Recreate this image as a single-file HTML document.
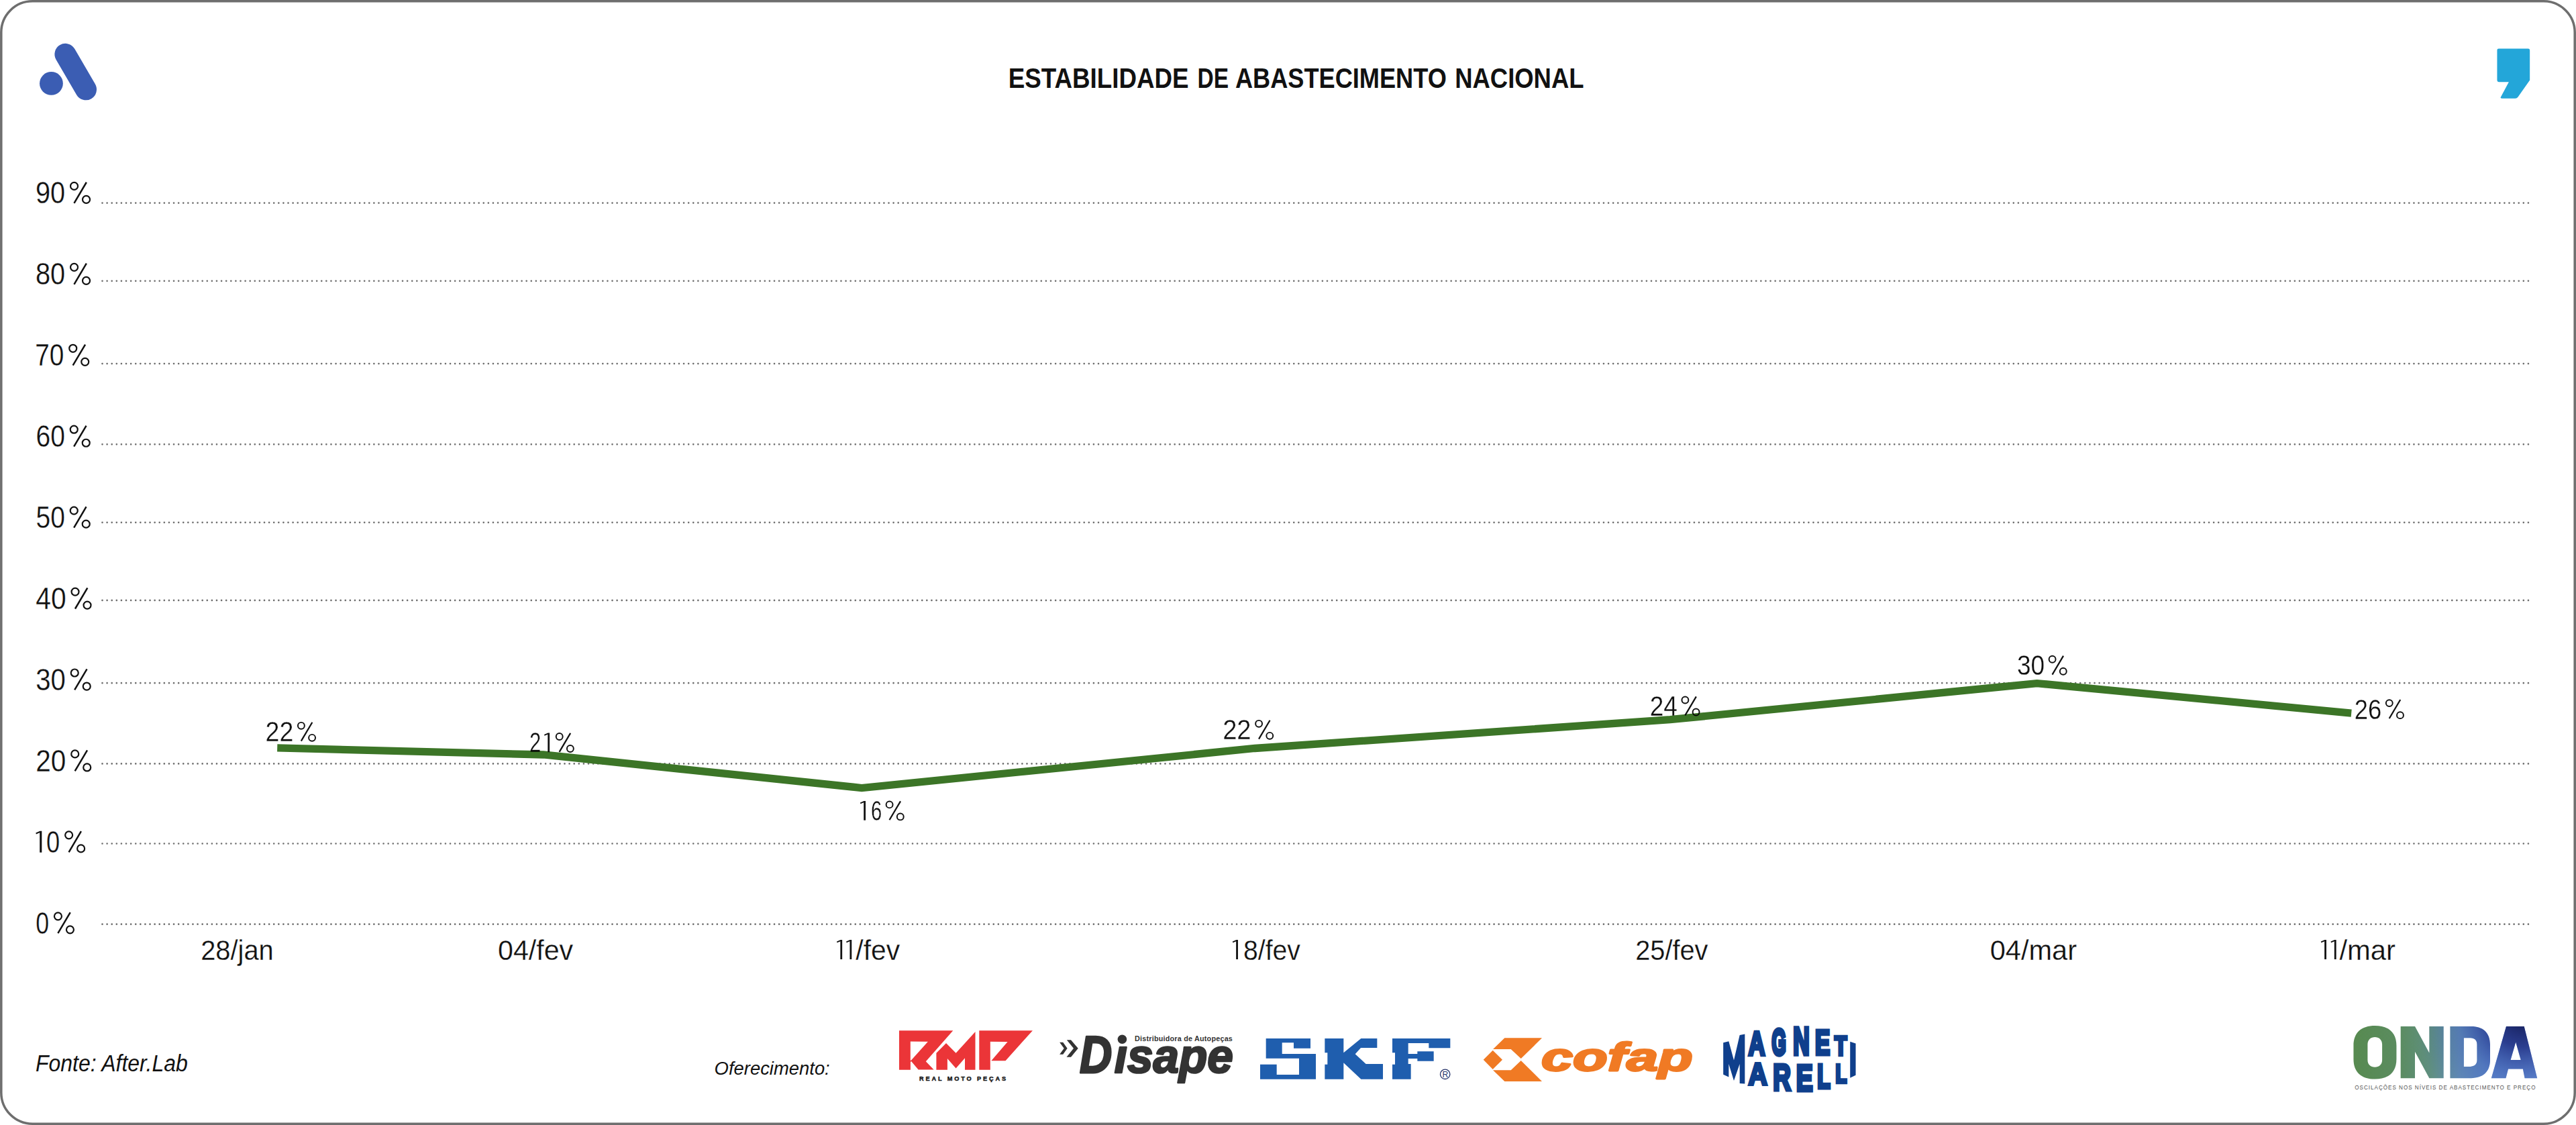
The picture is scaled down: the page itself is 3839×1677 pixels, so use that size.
<!DOCTYPE html>
<html><head><meta charset="utf-8"><title>Estabilidade de Abastecimento Nacional</title>
<style>html,body{margin:0;padding:0;background:#fff;width:3839px;height:1677px;overflow:hidden;font-family:"Liberation Sans",sans-serif}</style>
</head><body>
<svg width="3839" height="1677" viewBox="0 0 3839 1677" style="display:block;font-family:'Liberation Sans',sans-serif"><rect x="1.8" y="1.8" width="3835.4" height="1673.4" rx="46.5" ry="46.5" fill="#fff" stroke="#6e6e6e" stroke-width="3.5"/>
<g transform="scale(0.17778)"><circle cx="430" cy="700" r="98" fill="#3b5db3"/><line x1="548" y1="455" x2="720" y2="750" stroke="#3b5db3" stroke-width="180" stroke-linecap="round"/></g>
<g transform="translate(3640 0) scale(0.17784 0.17778)"><path fill="#23a6d9" d="M472,408 L718,408 Q732,408 732,422 L732,672 L632,814 Q624,826 610,826 L500,826 Q480,826 490,812 L556,688 L472,688 Q458,688 458,674 L458,422 Q458,408 472,408 Z"/></g>
<text transform="translate(1502.70 130.80) scale(0.8751 1)" style="font-weight:700;font-style:normal" font-size="42.01" fill="#111">ESTABILIDADE</text>
<text transform="translate(1784.50 130.80) scale(0.7970 1)" style="font-weight:700;font-style:normal" font-size="42.01" fill="#111">DE</text>
<text transform="translate(1841.00 130.80) scale(0.8613 1)" style="font-weight:700;font-style:normal" font-size="42.01" fill="#111">ABASTECIMENTO</text>
<text transform="translate(2168.20 130.80) scale(0.8675 1)" style="font-weight:700;font-style:normal" font-size="42.01" fill="#111">NACIONAL</text>
<line x1="152.5" y1="302.6" x2="3769" y2="302.6" stroke="#707070" stroke-width="2.7" stroke-linecap="round" stroke-dasharray="0 7.103"/>
<line x1="152.5" y1="418.8" x2="3769" y2="418.8" stroke="#707070" stroke-width="2.7" stroke-linecap="round" stroke-dasharray="0 7.103"/>
<line x1="152.5" y1="542.1" x2="3769" y2="542.1" stroke="#707070" stroke-width="2.7" stroke-linecap="round" stroke-dasharray="0 7.103"/>
<line x1="152.5" y1="662.3" x2="3769" y2="662.3" stroke="#707070" stroke-width="2.7" stroke-linecap="round" stroke-dasharray="0 7.103"/>
<line x1="152.5" y1="778.8" x2="3769" y2="778.8" stroke="#707070" stroke-width="2.7" stroke-linecap="round" stroke-dasharray="0 7.103"/>
<line x1="152.5" y1="894.9" x2="3769" y2="894.9" stroke="#707070" stroke-width="2.7" stroke-linecap="round" stroke-dasharray="0 7.103"/>
<line x1="152.5" y1="1018.2" x2="3769" y2="1018.2" stroke="#707070" stroke-width="2.7" stroke-linecap="round" stroke-dasharray="0 7.103"/>
<line x1="152.5" y1="1138.4" x2="3769" y2="1138.4" stroke="#707070" stroke-width="2.7" stroke-linecap="round" stroke-dasharray="0 7.103"/>
<line x1="152.5" y1="1257.5" x2="3769" y2="1257.5" stroke="#707070" stroke-width="2.7" stroke-linecap="round" stroke-dasharray="0 7.103"/>
<line x1="152.5" y1="1377.7" x2="3769" y2="1377.7" stroke="#707070" stroke-width="2.7" stroke-linecap="round" stroke-dasharray="0 7.103"/>
<text transform="translate(52.98 303.43) scale(0.8576 1)" style="font-weight:400;font-style:normal" font-size="46.29" fill="#111" stroke="#fff" stroke-width="0.29">90</text>
<g fill="none" stroke="#111"><circle cx="110.54" cy="277.43" r="5.50" stroke-width="2.20"/><circle cx="128.53" cy="297.45" r="5.50" stroke-width="2.20"/><line x1="128.84" y1="271.76" x2="110.46" y2="302.84" stroke-width="2.50"/></g>
<text transform="translate(52.98 424.36) scale(0.8576 1)" style="font-weight:400;font-style:normal" font-size="46.29" fill="#111" stroke="#fff" stroke-width="0.29">80</text>
<g fill="none" stroke="#111"><circle cx="110.54" cy="398.36" r="5.50" stroke-width="2.20"/><circle cx="128.53" cy="418.38" r="5.50" stroke-width="2.20"/><line x1="128.84" y1="392.69" x2="110.46" y2="423.77" stroke-width="2.50"/></g>
<text transform="translate(52.17 545.29) scale(0.8382 1)" style="font-weight:400;font-style:normal" font-size="46.29" fill="#111" stroke="#fff" stroke-width="0.30">70</text>
<g fill="none" stroke="#111"><circle cx="108.74" cy="519.29" r="5.50" stroke-width="2.20"/><circle cx="126.73" cy="539.31" r="5.50" stroke-width="2.20"/><line x1="127.04" y1="513.62" x2="108.66" y2="544.70" stroke-width="2.50"/></g>
<text transform="translate(53.48 666.22) scale(0.8421 1)" style="font-weight:400;font-style:normal" font-size="46.29" fill="#111" stroke="#fff" stroke-width="0.30">60</text>
<g fill="none" stroke="#111"><circle cx="110.24" cy="640.22" r="5.50" stroke-width="2.20"/><circle cx="128.23" cy="660.24" r="5.50" stroke-width="2.20"/><line x1="128.54" y1="634.55" x2="110.16" y2="665.63" stroke-width="2.50"/></g>
<text transform="translate(53.48 787.14) scale(0.8421 1)" style="font-weight:400;font-style:normal" font-size="46.29" fill="#111" stroke="#fff" stroke-width="0.30">50</text>
<g fill="none" stroke="#111"><circle cx="110.24" cy="761.15" r="5.50" stroke-width="2.20"/><circle cx="128.23" cy="781.17" r="5.50" stroke-width="2.20"/><line x1="128.54" y1="755.48" x2="110.16" y2="786.56" stroke-width="2.50"/></g>
<text transform="translate(53.27 908.08) scale(0.8810 1)" style="font-weight:400;font-style:normal" font-size="46.29" fill="#111" stroke="#fff" stroke-width="0.28">40</text>
<g fill="none" stroke="#111"><circle cx="112.04" cy="882.08" r="5.50" stroke-width="2.20"/><circle cx="130.03" cy="902.10" r="5.50" stroke-width="2.20"/><line x1="130.34" y1="876.41" x2="111.96" y2="907.49" stroke-width="2.50"/></g>
<text transform="translate(53.27 1029.01) scale(0.8654 1)" style="font-weight:400;font-style:normal" font-size="46.29" fill="#111" stroke="#fff" stroke-width="0.29">30</text>
<g fill="none" stroke="#111"><circle cx="111.24" cy="1003.01" r="5.50" stroke-width="2.20"/><circle cx="129.23" cy="1023.03" r="5.50" stroke-width="2.20"/><line x1="129.54" y1="997.34" x2="111.16" y2="1028.42" stroke-width="2.50"/></g>
<text transform="translate(53.27 1149.93) scale(0.8751 1)" style="font-weight:400;font-style:normal" font-size="46.29" fill="#111" stroke="#fff" stroke-width="0.29">20</text>
<g fill="none" stroke="#111"><circle cx="111.74" cy="1123.94" r="5.50" stroke-width="2.20"/><circle cx="129.73" cy="1143.96" r="5.50" stroke-width="2.20"/><line x1="130.04" y1="1118.27" x2="111.66" y2="1149.35" stroke-width="2.50"/></g>
<polygon fill="#111" points="62.30,1270.74 59.20,1270.74 59.20,1241.34 53.90,1243.44 53.30,1241.54 59.60,1238.74 62.30,1238.74"/>
<text transform="translate(68.88 1270.87) scale(0.7829 1)" style="font-weight:400;font-style:normal" font-size="46.29" fill="#111" stroke="#fff" stroke-width="0.32">0</text>
<g fill="none" stroke="#111"><circle cx="102.64" cy="1244.87" r="5.50" stroke-width="2.20"/><circle cx="120.63" cy="1264.89" r="5.50" stroke-width="2.20"/><line x1="120.94" y1="1239.20" x2="102.56" y2="1270.28" stroke-width="2.50"/></g>
<text transform="translate(53.17 1391.80) scale(0.7712 1)" style="font-weight:400;font-style:normal" font-size="46.29" fill="#111" stroke="#fff" stroke-width="0.32">0</text>
<g fill="none" stroke="#111"><circle cx="86.44" cy="1365.80" r="5.50" stroke-width="2.20"/><circle cx="104.43" cy="1385.82" r="5.50" stroke-width="2.20"/><line x1="104.74" y1="1360.13" x2="86.36" y2="1391.21" stroke-width="2.50"/></g>
<polyline fill="none" stroke="#3c7527" stroke-width="11.3" stroke-linejoin="miter" stroke-linecap="butt" points="413.2,1114.9 810.0,1125.0 1284.2,1174.5 1870.0,1115.5 2489.0,1072.7 3035.7,1018.6 3504.2,1063.1"/>
<g style="mix-blend-mode:multiply">
<text transform="translate(395.57 1105.22) scale(0.8875 1)" style="font-weight:400;font-style:normal" font-size="42.34" fill="#111" stroke="#fff" stroke-width="0.28">22</text>
<g fill="none" stroke="#111"><circle cx="448.88" cy="1081.82" r="4.95" stroke-width="1.98"/><circle cx="465.07" cy="1099.83" r="4.95" stroke-width="1.98"/><line x1="465.35" y1="1076.71" x2="448.80" y2="1104.69" stroke-width="2.25"/></g>
<text transform="translate(788.98 1121.42) scale(0.7328 1)" style="font-weight:400;font-style:normal" font-size="42.34" fill="#111" stroke="#fff" stroke-width="0.34">2</text>
<polygon fill="#111" points="819.10,1121.30 816.31,1121.30 816.31,1094.84 811.54,1096.73 811.00,1095.02 816.67,1092.50 819.10,1092.50"/>
<g fill="none" stroke="#111"><circle cx="833.68" cy="1098.02" r="4.95" stroke-width="1.98"/><circle cx="849.87" cy="1116.03" r="4.95" stroke-width="1.98"/><line x1="850.15" y1="1092.91" x2="833.60" y2="1120.89" stroke-width="2.25"/></g>
<polygon fill="#111" points="1290.00,1222.70 1287.21,1222.70 1287.21,1196.24 1282.44,1198.13 1281.90,1196.42 1287.57,1193.90 1290.00,1193.90"/>
<text transform="translate(1297.88 1222.83) scale(0.6904 1)" style="font-weight:400;font-style:normal" font-size="42.34" fill="#111" stroke="#fff" stroke-width="0.36">6</text>
<g fill="none" stroke="#111"><circle cx="1325.58" cy="1199.42" r="4.95" stroke-width="1.98"/><circle cx="1341.77" cy="1217.43" r="4.95" stroke-width="1.98"/><line x1="1342.05" y1="1194.31" x2="1325.50" y2="1222.29" stroke-width="2.25"/></g>
<text transform="translate(1822.17 1102.22) scale(0.9002 1)" style="font-weight:400;font-style:normal" font-size="42.34" fill="#111" stroke="#fff" stroke-width="0.28">22</text>
<g fill="none" stroke="#111"><circle cx="1876.08" cy="1078.82" r="4.95" stroke-width="1.98"/><circle cx="1892.27" cy="1096.83" r="4.95" stroke-width="1.98"/><line x1="1892.55" y1="1073.71" x2="1876.00" y2="1101.69" stroke-width="2.25"/></g>
<text transform="translate(2458.68 1066.92) scale(0.8747 1)" style="font-weight:400;font-style:normal" font-size="42.34" fill="#111" stroke="#fff" stroke-width="0.29">24</text>
<g fill="none" stroke="#111"><circle cx="2511.38" cy="1043.52" r="4.95" stroke-width="1.98"/><circle cx="2527.57" cy="1061.53" r="4.95" stroke-width="1.98"/><line x1="2527.85" y1="1038.41" x2="2511.30" y2="1066.39" stroke-width="2.25"/></g>
<text transform="translate(3005.88 1006.12) scale(0.8747 1)" style="font-weight:400;font-style:normal" font-size="42.34" fill="#111" stroke="#fff" stroke-width="0.29">30</text>
<g fill="none" stroke="#111"><circle cx="3058.58" cy="982.72" r="4.95" stroke-width="1.98"/><circle cx="3074.77" cy="1000.74" r="4.95" stroke-width="1.98"/><line x1="3075.05" y1="977.61" x2="3058.50" y2="1005.59" stroke-width="2.25"/></g>
<text transform="translate(3508.78 1071.53) scale(0.8599 1)" style="font-weight:400;font-style:normal" font-size="42.34" fill="#111" stroke="#fff" stroke-width="0.29">26</text>
<g fill="none" stroke="#111"><circle cx="3560.78" cy="1048.12" r="4.95" stroke-width="1.98"/><circle cx="3576.97" cy="1066.13" r="4.95" stroke-width="1.98"/><line x1="3577.25" y1="1043.01" x2="3560.70" y2="1070.99" stroke-width="2.25"/></g>
</g>
<text transform="translate(299.18 1430.62) scale(0.9192 1)" style="font-weight:400;font-style:normal" font-size="43.34" fill="#111" stroke="#fff" stroke-width="0.27">28/jan</text>
<text transform="translate(741.98 1430.62) scale(0.9500 1)" style="font-weight:400;font-style:normal" font-size="43.34" fill="#111" stroke="#fff" stroke-width="0.26">04/fev</text>
<polygon fill="#111" points="1255.15,1430.00 1252.35,1430.00 1252.35,1403.36 1247.54,1405.27 1247.00,1403.54 1252.71,1401.01 1255.15,1401.01"/>
<polygon fill="#111" points="1269.25,1430.00 1266.45,1430.00 1266.45,1403.36 1261.64,1405.27 1261.10,1403.54 1266.81,1401.01 1269.25,1401.01"/>
<text transform="translate(1275.28 1430.62) scale(0.9426 1)" style="font-weight:400;font-style:normal" font-size="43.34" fill="#111" stroke="#fff" stroke-width="0.27">/fev</text>
<polygon fill="#111" points="1844.95,1430.00 1842.15,1430.00 1842.15,1403.36 1837.34,1405.27 1836.80,1403.54 1842.51,1401.01 1844.95,1401.01"/>
<text transform="translate(1852.97 1430.62) scale(0.9041 1)" style="font-weight:400;font-style:normal" font-size="43.34" fill="#111" stroke="#fff" stroke-width="0.28">8/fev</text>
<text transform="translate(2437.18 1430.62) scale(0.9170 1)" style="font-weight:400;font-style:normal" font-size="43.34" fill="#111" stroke="#fff" stroke-width="0.27">25/fev</text>
<text transform="translate(2965.78 1430.62) scale(0.9583 1)" style="font-weight:400;font-style:normal" font-size="43.34" fill="#111" stroke="#fff" stroke-width="0.26">04/mar</text>
<polygon fill="#111" points="3466.95,1430.00 3464.15,1430.00 3464.15,1403.36 3459.34,1405.27 3458.80,1403.54 3464.51,1401.01 3466.95,1401.01"/>
<polygon fill="#111" points="3481.65,1430.00 3478.85,1430.00 3478.85,1403.36 3474.04,1405.27 3473.50,1403.54 3479.21,1401.01 3481.65,1401.01"/>
<text transform="translate(3486.47 1430.62) scale(0.9639 1)" style="font-weight:400;font-style:normal" font-size="43.34" fill="#111" stroke="#fff" stroke-width="0.26">/mar</text>
<text transform="translate(53.00 1597.00) scale(0.9320 1)" style="font-weight:400;font-style:italic" font-size="34.30" fill="#111">Fonte: After.Lab</text>
<text transform="translate(1064.60 1601.80) scale(0.9674 1)" style="font-weight:400;font-style:italic" font-size="28.34" fill="#111">Oferecimento:</text>
<g fill="#eb3538"><path fill-rule="evenodd" d="M1340.0,1536.2 L1420.3,1536.2 L1379.8,1582.3 L1391.6,1594.4 L1368.6,1594.4 L1358.0,1582.0 L1356.9,1582.9 L1356.9,1594.7 L1340.0,1594.7 Z M1356.8,1552.4 L1382.9,1552.7 L1357.7,1580.7 L1356.8,1580.7 Z"/><path d="M1395.4,1569.8 L1410.0,1554.9 L1424.6,1569.8 L1453.5,1538.1 L1453.5,1594.7 L1438.0,1594.7 L1438.0,1577.3 L1424.6,1592.5 L1411.9,1577.9 L1411.9,1594.7 L1395.4,1594.7 Z"/><path fill-rule="evenodd" d="M1459.3,1536.2 L1538.9,1536.2 L1498.5,1581.3 L1475.8,1581.3 L1475.8,1594.7 L1459.3,1594.7 Z M1475.8,1552.7 L1501.6,1552.9 L1477.3,1581.2 L1475.8,1581.2 Z"/></g>
<text x="1369.95" y="1611.45" style="font-weight:700;font-style:normal" font-size="9.16" letter-spacing="2.900" fill="#1a1a1a" stroke="#1a1a1a" stroke-width="0.50" stroke-linejoin="round">REAL MOTO PEÇAS</text>
<g transform="translate(1560 1525) scale(0.11258)" fill="#333"><path d="M170,255 L215,255 L272,335 L215,415 L170,415 L228,335 Z"/><path d="M265,225 L320,225 L415,335 L320,450 L262,450 L355,335 Z"/><circle cx="998.4" cy="215.0" r="60.4"/></g>
<text transform="translate(1609.10 1598.60) scale(0.8553 1)" style="font-weight:700;font-style:italic" font-size="78.05" fill="#333" stroke="#333" stroke-width="3.04" stroke-linejoin="round">D</text>
<text transform="translate(1660.80 1598.60) scale(0.9548 1)" style="font-weight:700;font-style:italic" font-size="72.54" fill="#333" stroke="#333" stroke-width="2.72" stroke-linejoin="round">ısape</text>
<text x="1691.10" y="1551.50" style="font-weight:700;font-style:normal" font-size="10.76" letter-spacing="0.230" fill="#333">Distribuidora de Autopeças</text>
<g transform="translate(1860 1530) scale(0.12422)" fill="#1f5eae"><path d="M214.7,144.9 L748.7,144.9 L748.7,263 L547.4,263 L547.4,195.9 L407.9,195.9 L407.9,330 L813,330 L813,633.3 L144.9,633.3 L144.9,456.2 L343.5,456.2 L343.5,579.6 L611.8,579.6 L611.8,383.7 L214.7,383.7 Z"/><path d="M920.4,144.9 L1145.8,144.9 L1145.8,316.6 L1355.1,144.9 L1548.3,144.9 L1548.3,257.6 L1352.4,257.6 L1285.3,332.7 L1414.1,450.8 L1618.1,450.8 L1618.1,633.3 L1355.1,633.3 L1145.8,437.4 L1145.8,633.3 L920.4,633.3 L920.4,456.2 L952.6,456.2 L952.6,316.6 L920.4,316.6 Z"/><path d="M1730.8,144.9 L2425.7,144.9 L2425.7,260.3 L2168.1,260.3 L2168.1,201.3 L1921.3,201.3 L1921.3,330.1 L2031.3,330.1 L2031.3,300.5 L2227.2,300.5 L2227.2,415.9 L2031.3,415.9 L2031.3,386.4 L1921.3,386.4 L1921.3,450.8 L1953.5,450.8 L1953.5,633.3 L1730.8,633.3 L1730.8,456.2 L1763,456.2 L1763,316.6 L1730.8,316.6 Z"/></g><g transform="translate(1860 1530) scale(0.12422)"><circle cx="2364" cy="574" r="58" fill="none" stroke="#27346a" stroke-width="10.5"/><text x="2366" y="610" text-anchor="middle" font-size="98" style="font-weight:400" fill="#27346a">R</text></g>
<g fill="#f07a24"><path d="M2242.3,1547.3 L2298.0,1547.3 L2266.7,1578.1 L2251.7,1564.0 L2225.0,1564.0 Z"/><path d="M2210.7,1579.7 L2224.7,1565.7 L2239.0,1579.7 L2224.7,1594.0 Z"/><path d="M2225.0,1595.3 L2251.7,1595.3 L2266.7,1581.0 L2298.0,1612.0 L2242.3,1612.0 Z"/></g>
<text transform="translate(2297.00 1596.00) scale(1.4414 1)" style="font-weight:700;font-style:italic" font-size="58.71" fill="#f07a24" stroke="#f07a24" stroke-width="2.78" stroke-linejoin="round">cofap</text>
<g transform="translate(2550 1515) scale(0.11111)" fill="#0f3f8c"><path d="M163.6,353 L237,335 L306,590 L384,252 L453,238 L453,905 L384,900 L384,640 L306,864 L237,640 L237,815 L163.6,781 Z"/><path d="M1865,340 L1940,365 L1940,790 L1865,825 Z"/>
<text transform="translate(500.0 518.6) scale(0.3116 0.4438)" font-size="1000" style="font-weight:700" stroke="#0f3f8c" stroke-width="96.3" stroke-linejoin="miter">A</text>
<text transform="translate(815.0 510.3) scale(0.2442 0.4840)" font-size="1000" style="font-weight:700" stroke="#0f3f8c" stroke-width="122.8" stroke-linejoin="miter">G</text>
<text transform="translate(1100.0 514.9) scale(0.3047 0.5107)" font-size="1000" style="font-weight:700" stroke="#0f3f8c" stroke-width="98.5" stroke-linejoin="miter">N</text>
<text transform="translate(1395.0 516.7) scale(0.2999 0.4658)" font-size="1000" style="font-weight:700" stroke="#0f3f8c" stroke-width="100.0" stroke-linejoin="miter">E</text>
<text transform="translate(1655.0 520.0) scale(0.2700 0.3595)" font-size="1000" style="font-weight:700" stroke="#0f3f8c" stroke-width="111.1" stroke-linejoin="miter">T</text>
<text transform="translate(500.0 922.4) scale(0.3532 0.4141)" font-size="1000" style="font-weight:700" stroke="#0f3f8c" stroke-width="84.9" stroke-linejoin="miter">A</text>
<text transform="translate(830.0 987.5) scale(0.3324 0.4988)" font-size="1000" style="font-weight:700" stroke="#0f3f8c" stroke-width="90.2" stroke-linejoin="miter">R</text>
<text transform="translate(1140.0 997.8) scale(0.3373 0.4999)" font-size="1000" style="font-weight:700" stroke="#0f3f8c" stroke-width="88.9" stroke-linejoin="miter">E</text>
<text transform="translate(1425.0 961.8) scale(0.2864 0.4436)" font-size="1000" style="font-weight:700" stroke="#0f3f8c" stroke-width="104.7" stroke-linejoin="miter">L</text>
<text transform="translate(1670.0 893.8) scale(0.2455 0.3466)" font-size="1000" style="font-weight:700" stroke="#0f3f8c" stroke-width="122.2" stroke-linejoin="miter">L</text>
</g>
<defs><linearGradient id="og" x1="385" y1="0" x2="1925" y2="0" gradientUnits="userSpaceOnUse"><stop offset="0" stop-color="#578a50"/><stop offset="0.25" stop-color="#5b8c60"/><stop offset="0.42" stop-color="#5f8f80"/><stop offset="0.58" stop-color="#6690b8"/><stop offset="0.75" stop-color="#628bcc"/><stop offset="1" stop-color="#6a90d2"/></linearGradient><radialGradient id="og2" cx="1800" cy="200" r="900" gradientUnits="userSpaceOnUse"><stop offset="0" stop-color="#0e1448" stop-opacity="0.97"/><stop offset="0.3" stop-color="#17237a" stop-opacity="0.75"/><stop offset="0.6" stop-color="#2a48a8" stop-opacity="0.3"/><stop offset="1" stop-color="#2a48a8" stop-opacity="0"/></radialGradient></defs><g transform="translate(3439 1477) scale(0.17778)"><g fill="url(#og)"><path fill-rule="evenodd" d="M565,292 C680,292 745,350 745,460 L745,572 C745,682 680,740 565,740 C450,740 385,682 385,572 L385,460 C385,350 450,292 565,292 Z M564,388 C530,388 503,410 503,450 L503,580 C503,620 530,640 564,640 C598,640 625,620 625,580 L625,450 C625,410 598,388 564,388 Z"/><path d="M780,298 L900,298 L1020,520 L1020,298 L1140,298 L1140,732 L1020,732 L900,510 L900,732 L780,732 Z"/><path fill-rule="evenodd" d="M1195,298 L1370,298 C1470,298 1530,350 1530,450 L1530,580 C1530,680 1470,732 1370,732 L1195,732 Z M1310,395 L1365,395 C1400,395 1420,415 1420,450 L1420,580 C1420,615 1400,635 1365,635 L1310,635 Z"/><path fill-rule="evenodd" d="M1665,298 L1815,298 L1925,732 L1820,732 L1805,655 L1682,655 L1662,732 L1540,732 Z M1745,430 L1787,580 L1702,580 Z"/></g><g fill="url(#og2)"><path fill-rule="evenodd" d="M565,292 C680,292 745,350 745,460 L745,572 C745,682 680,740 565,740 C450,740 385,682 385,572 L385,460 C385,350 450,292 565,292 Z M564,388 C530,388 503,410 503,450 L503,580 C503,620 530,640 564,640 C598,640 625,620 625,580 L625,450 C625,410 598,388 564,388 Z"/><path d="M780,298 L900,298 L1020,520 L1020,298 L1140,298 L1140,732 L1020,732 L900,510 L900,732 L780,732 Z"/><path fill-rule="evenodd" d="M1195,298 L1370,298 C1470,298 1530,350 1530,450 L1530,580 C1530,680 1470,732 1370,732 L1195,732 Z M1310,395 L1365,395 C1400,395 1420,415 1420,450 L1420,580 C1420,615 1400,635 1365,635 L1310,635 Z"/><path fill-rule="evenodd" d="M1665,298 L1815,298 L1925,732 L1820,732 L1805,655 L1682,655 L1662,732 L1540,732 Z M1745,430 L1787,580 L1702,580 Z"/></g></g>
<text x="3509.20" y="1623.90" style="font-weight:400;font-style:normal" font-size="8.14" letter-spacing="0.981" fill="#555">OSCILAÇÕES NOS NÍVEIS DE ABASTECIMENTO E PREÇO</text></svg>
</body></html>
